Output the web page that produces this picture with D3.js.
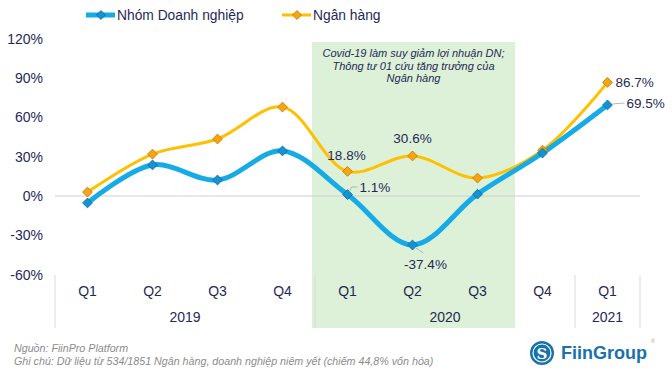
<!DOCTYPE html>
<html><head><meta charset="utf-8">
<script src="https://cdn.jsdelivr.net/npm/d3@7"></script>
<style>body{margin:0;background:#fff}svg{display:block;font-family:"Liberation Sans",Arial,sans-serif}</style>
</head><body><svg id="c" width="672" height="373"></svg>
<script>
const quarters = ["Q1","Q2","Q3","Q4","Q1","Q2","Q3","Q4","Q1"];
const years = ["2019","2020","2021"];
const yearCounts = [4,4,1];
const doanhNghiep = [-5.3, 23.7, 12.2, 34.4, 1.1, -37.4, 1.4, 32.8, 69.5];
const nganHang = [3.0, 32.0, 43.5, 67.9, 18.8, 30.6, 13.7, 35.0, 86.7];
const yTicks = [-60,-30,0,30,60,90,120];
const seriesNames = ["Nhóm Doanh nghiệp","Ngân hàng"];
const annotation = ["Covid-19 làm suy giảm lợi nhuận DN;","Thông tư 01 cứu tăng trưởng của","Ngân hàng"];
const shadeRange = [4,6];

const navy = "#1f2a56";
const blue = "#16aae6", blueMark = "#1791cf", blueStroke = "#0b6fa8";
const gold = "#ffc000", goldMark = "#f5a50f", goldStroke = "#c87800";

const svg = d3.select("#c");
const idx = quarters.map((d,i)=>i);
const x = d3.scaleBand().domain(idx).range([55,640]).padding(0);
const y = d3.scaleLinear().domain([-60,120]).range([274.6,38.8]);
const cx = i => x(i) + x.bandwidth()/2;

// shaded region
svg.append("rect")
  .attr("x", x(shadeRange[0]) - 3)
  .attr("y", 42)
  .attr("width", x(shadeRange[1]) + x.bandwidth() + 5 - (x(shadeRange[0]) - 3))
  .attr("height", 328 - 42)
  .attr("fill", "#ddf0d8");

// zero line
svg.append("line").attr("x1",55).attr("x2",640).attr("y1",y(0)).attr("y2",y(0))
  .attr("stroke","#d0d0d0").attr("stroke-width",1);

// y axis
const yAxis = svg.append("g").attr("transform","translate(43,0)")
  .call(d3.axisLeft(y).tickValues(yTicks).tickSize(0).tickPadding(0).tickFormat(d=>d+"%"));
yAxis.select(".domain").remove();
yAxis.selectAll("text").attr("fill",navy).style("font-size","14px").style("font-family","Liberation Sans, Arial, sans-serif");

// x axis quarter labels
const xAxis = svg.append("g").attr("transform","translate(0,286)")
  .call(d3.axisBottom(x).tickSize(0).tickPadding(0).tickFormat(i=>quarters[i]));
xAxis.select(".domain").remove();
xAxis.selectAll("text").attr("fill",navy).style("font-size","14px").style("font-family","Liberation Sans, Arial, sans-serif");

// year groups and separators
let start = 0;
const bounds = [x(0)];
years.forEach((yr,k)=>{
  const end = start + yearCounts[k];
  const x0 = x(start), x1 = x(end-1) + x.bandwidth();
  bounds.push(x1);
  svg.append("text").attr("x",(x0+x1)/2).attr("y",322).attr("text-anchor","middle")
    .attr("fill",navy).style("font-size","14px").text(yr);
  start = end;
});
bounds.forEach(b=>{
  svg.append("line").attr("x1",b).attr("x2",b).attr("y1",275).attr("y2",328)
    .attr("stroke","#d9d9d9").attr("stroke-width",1);
});

// lines
const line = d3.line().x((d,i)=>cx(i)).y(d=>y(d)).curve(d3.curveCatmullRom.alpha(0.5));
svg.append("path").datum(nganHang).attr("d",line).attr("fill","none").attr("stroke",gold).attr("stroke-width",3);
svg.append("path").datum(doanhNghiep).attr("d",line).attr("fill","none").attr("stroke",blue).attr("stroke-width",5);

function markers(data, fill, stroke){
  svg.append("g").selectAll("path").data(data).join("path")
    .attr("d", d3.symbol().type(d3.symbolSquare).size(48))
    .attr("transform",(d,i)=>`translate(${cx(i)},${y(d)}) rotate(45)`)
    .attr("fill",fill).attr("stroke",stroke).attr("stroke-width",0.8);
}
markers(nganHang, goldMark, goldStroke);
markers(doanhNghiep, blueMark, blueStroke);

// data labels
function label(txt, xx, yy, anchor){
  svg.append("text").attr("x",xx).attr("y",yy).attr("text-anchor",anchor||"middle")
    .attr("dominant-baseline","central").attr("fill",navy).style("font-size","13.5px").text(txt);
}
const fmt = v => v.toFixed(1) + "%";
label(fmt(nganHang[4]), cx(4)-1, 155);
label(fmt(nganHang[5]), cx(5), 138);
label(fmt(doanhNghiep[4]), cx(4)+12, 187, "start");
label(fmt(doanhNghiep[5]), cx(5)+13, 264);
label(fmt(nganHang[8]), cx(8)+8, 82, "start");
label(fmt(doanhNghiep[8]), cx(8)+19, 103, "start");
// leader lines
const leader = (pts)=>svg.append("path").attr("d",d3.line()(pts)).attr("fill","none").attr("stroke","#a6a6a6").attr("stroke-width",0.8);
leader([[cx(4)+2,y(doanhNghiep[4])-3],[cx(4)+4,187],[cx(4)+10,187]]);
leader([[cx(5)+2,y(doanhNghiep[5])+2],[cx(5)+11,253]]);
leader([[cx(8)+5,y(doanhNghiep[8])-1],[cx(8)+17,103]]);

// annotation
annotation.forEach((t,k)=>{
  svg.append("text").attr("x",(x(shadeRange[0])-3 + x(shadeRange[1])+x.bandwidth()+5)/2).attr("y",53+k*12.5)
    .attr("text-anchor","middle").attr("dominant-baseline","central")
    .attr("fill",navy).style("font-size","11px").style("font-style","italic").text(t);
});

// legend
const leg = [{name:seriesNames[0],c:blue,m:blueMark,s:blueStroke,w:5,x:86},{name:seriesNames[1],c:gold,m:goldMark,s:goldStroke,w:3,x:282}];
leg.forEach(l=>{
  const g = svg.append("g");
  g.append("line").attr("x1",l.x).attr("x2",l.x+29).attr("y1",15).attr("y2",15).attr("stroke",l.c).attr("stroke-width",l.w);
  g.append("path").attr("d",d3.symbol().type(d3.symbolSquare).size(40)).attr("transform",`translate(${l.x+15},15) rotate(45)`)
    .attr("fill",l.m).attr("stroke",l.s).attr("stroke-width",0.8);
  g.append("text").attr("x",l.x+31).attr("y",15).attr("dominant-baseline","central")
    .attr("fill",navy).style("font-size","13.8px").text(l.name);
});

// footer
svg.append("text").attr("x",14).attr("y",348).attr("dominant-baseline","central")
  .attr("fill","#8c8c8c").style("font-size","10.7px").style("font-style","italic").text("Nguồn: FiinPro Platform");
svg.append("text").attr("x",14).attr("y",361).attr("dominant-baseline","central")
  .attr("fill","#8c8c8c").style("font-size","10.7px").style("font-style","italic")
  .text("Ghi chú: Dữ liệu từ 534/1851 Ngân hàng, doanh nghiệp niêm yết (chiếm 44,8% vốn hóa)");

// logo
const logoC = "#1a72ab";
svg.append("circle").attr("cx",542).attr("cy",353).attr("r",12).attr("fill",logoC);
svg.append("circle").attr("cx",542).attr("cy",353).attr("r",9).attr("fill","none").attr("stroke","#fff").attr("stroke-width",1.2);
svg.append("text").attr("x",542).attr("y",354).attr("text-anchor","middle").attr("dominant-baseline","central")
  .attr("fill","#fff").style("font-size","15px").style("font-weight","bold").style("font-family","DejaVu Serif, serif").text("S");
svg.append("text").attr("x",561).attr("y",353).attr("dominant-baseline","central")
  .attr("fill",logoC).style("font-size","18px").style("font-weight","bold").text("FiinGroup");
svg.append("text").attr("x",651).attr("y",343).attr("fill","#999").style("font-size","5px").text("®");
</script></body></html>
